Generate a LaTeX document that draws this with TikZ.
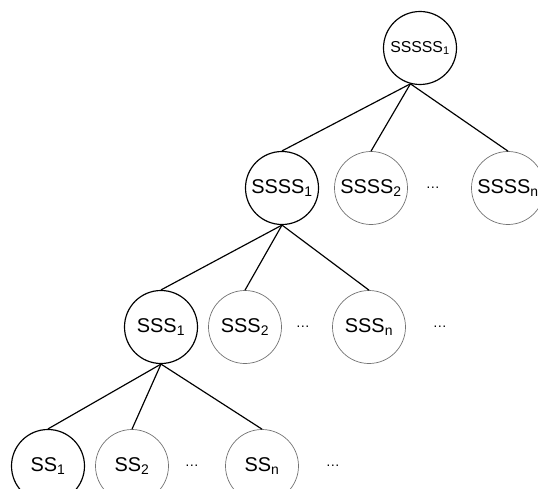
\documentclass[tikz,border=0pt]{standalone}
\usepackage{fontspec}
\setmainfont{Liberation Sans}
\usetikzlibrary{positioning}

\begin{document}
\begin{tikzpicture}[node distance=1cm, on grid,
  mainnode/.style={circle, draw=black, line width=1pt, minimum size=2.19cm, inner sep=0pt, font=\fontsize{17}{20}\selectfont},
  subnode/.style={circle, draw=black!55, line width=0.6pt, minimum size=2.19cm, inner sep=0pt, font=\fontsize{17}{20}\selectfont},
  gap/.style={inner sep=0pt, font=\fontsize{12}{14}\selectfont},
  edge/.style={line width=1pt}]
\useasboundingbox (0,0) rectangle (16.14,-14.67);
% root
\node[mainnode, font=\fontsize{13.5}{16}\selectfont] (s5a) at (12.6,-1.44) {SSSSS\textsubscript{1}};
% second row
\node[mainnode, below=4.2cm of s5a, xshift=-4.14cm] (s4a) {SSSS\textsubscript{1}};
\node[subnode, right=2.67cm of s4a] (s4b) {SSSS\textsubscript{2}};
\node[gap, right=1.86cm of s4b] (d4) {\dots};
\node[subnode, right=2.25cm of d4] (s4n) {SSSS\textsubscript{n}};
% third row
\node[mainnode, below=4.17cm of s4a, xshift=-3.63cm] (s3a) {SSS\textsubscript{1}};
\node[subnode, right=2.52cm of s3a] (s3b) {SSS\textsubscript{2}};
\node[gap, right=1.74cm of s3b] (d3a) {\dots};
\node[subnode, right=1.98cm of d3a] (s3n) {SSS\textsubscript{n}};
\node[gap, right=2.13cm of s3n] (d3b) {\dots};
% bottom row
\node[mainnode, below=4.17cm of s3a, xshift=-3.39cm] (s2a) {SS\textsubscript{1}};
\node[subnode, right=2.52cm of s2a] (s2b) {SS\textsubscript{2}};
\node[gap, right=1.8cm of s2b] (d2a) {\dots};
\node[subnode, right=2.1cm of d2a] (s2n) {SS\textsubscript{n}};
\node[gap, right=2.13cm of s2n] (d2b) {\dots};

\draw[edge] (s5a.255) -- (s4a.north);
\draw[edge] (s5a.255) -- (s4b.north);
\draw[edge] (s5a.255) -- (s4n.north);
\draw[edge] (s4a.south) -- (s3a.north);
\draw[edge] (s4a.south) -- (s3b.north);
\draw[edge] (s4a.south) -- (s3n.north);
\draw[edge] (s3a.south) -- (s2a.north);
\draw[edge] (s3a.south) -- (s2b.north);
\draw[edge] (s3a.south) -- (s2n.north);
\end{tikzpicture}
\end{document}
